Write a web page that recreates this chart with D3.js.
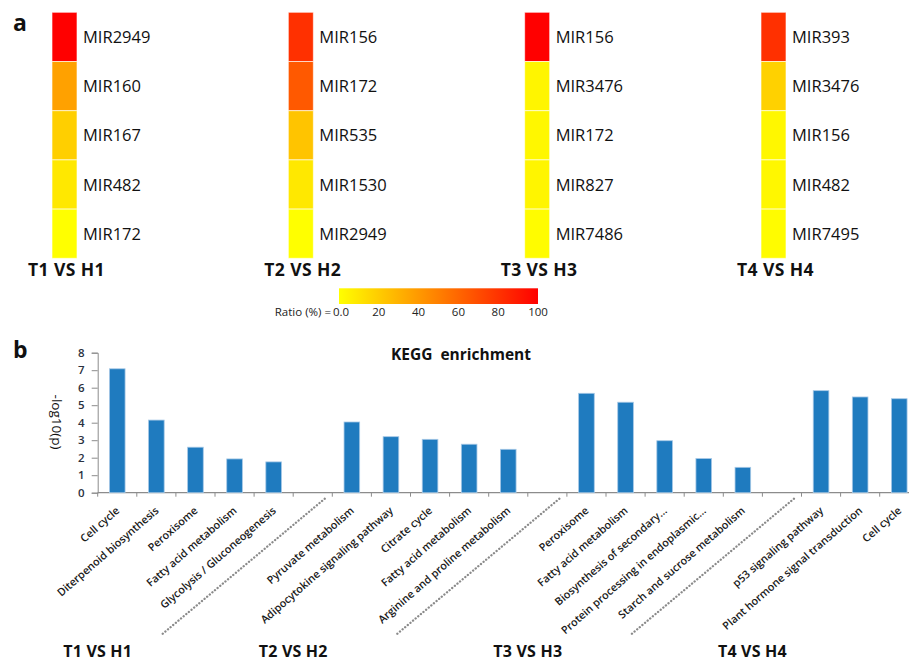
<!DOCTYPE html>
<html>
<head>
<meta charset="utf-8">
<script src="https://cdn.jsdelivr.net/npm/d3@7"></script>
<style>
  html, body { margin: 0; padding: 0; background: #fff; }
  svg { display: block; font-family: "Open Sans", "Liberation Sans", Arial, sans-serif; }
</style>
</head>
<body>
<svg id="fig" width="909" height="664"></svg>
<script>
// ---- panel a: top-5 miRNAs per comparison (ratio, %) ----
const groups = ["T1 VS H1", "T2 VS H2", "T3 VS H3", "T4 VS H4"];
const mirT1 = ["MIR2949", "MIR160", "MIR167", "MIR482", "MIR172"];
const mirT2 = ["MIR156", "MIR172", "MIR535", "MIR1530", "MIR2949"];
const mirT3 = ["MIR156", "MIR3476", "MIR172", "MIR827", "MIR7486"];
const mirT4 = ["MIR393", "MIR3476", "MIR156", "MIR482", "MIR7495"];
const ratioT1 = [100, 37, 19, 9, 0];
const ratioT2 = [81, 65, 23, 9, 0];
const ratioT3 = [100, 4, 3, 4, 1];
const ratioT4 = [81, 18, 3, 3, 1];
const ratioTicks = [0, 20, 40, 60, 80, 100];
const ratioTickLabels = ["0.0", "20", "40", "60", "80", "100"];

// ---- panel b: KEGG enrichment, -log10(p) ----
const pathT1 = ["Cell cycle", "Diterpenoid biosynthesis", "Peroxisome", "Fatty acid metabolism", "Glycolysis / Gluconeogenesis"];
const pathT2 = ["Pyruvate metabolism", "Adipocytokine signaling pathway", "Citrate cycle", "Fatty acid metabolism", "Arginine and proline metabolism"];
const pathT3 = ["Peroxisome", "Fatty acid metabolism", "Biosynthesis of secondary...", "Protein processing in endoplasmic...", "Starch and sucrose metabolism"];
const pathT4 = ["p53 signaling pathway", "Plant hormone signal transduction", "Cell cycle"];
const logpT1 = [7.08, 4.15, 2.6, 1.93, 1.76];
const logpT2 = [4.04, 3.2, 3.05, 2.77, 2.48];
const logpT3 = [5.68, 5.17, 2.97, 1.95, 1.45];
const logpT4 = [5.83, 5.47, 5.37];
const yTicks = [0, 1, 2, 3, 4, 5, 6, 7, 8];

const svg = d3.select("#fig");

// ================= panel a =================
const mirNames = [mirT1, mirT2, mirT3, mirT4];
const mirRatios = [ratioT1, ratioT2, ratioT3, ratioT4];

const colX = d3.scalePoint().domain(groups).range([52, 761]);
const rowY = d3.scaleBand().domain(d3.range(5)).range([12.3, 258.3]);
const color = d3.scaleLinear().domain([0, 100]).range(["#ffff00", "#ff0000"]).interpolate(d3.interpolateRgb);
const cellW = 25;

svg.append("text").attr("x", 13).attr("y", 31)
  .attr("font-size", 23).attr("font-weight", "bold").attr("fill", "#111").text("a");

groups.forEach((g, gi) => {
  const col = svg.append("g");
  const x0 = colX(g);
  col.selectAll("rect").data(mirRatios[gi]).join("rect")
    .attr("x", x0).attr("y", (d, i) => rowY(i))
    .attr("width", cellW).attr("height", rowY.bandwidth())
    .attr("fill", d => color(d))
    .attr("stroke", "#ffffff").attr("stroke-opacity", 0.6).attr("stroke-width", 1);
  col.selectAll("text.mir").data(mirNames[gi]).join("text")
    .attr("class", "mir")
    .attr("x", x0 + cellW + 6)
    .attr("y", (d, i) => rowY(i) + rowY.bandwidth() / 2 + 6)
    .attr("font-size", 16.5).attr("fill", "#111").text(d => d);
  col.append("text")
    .attr("x", x0 - 24).attr("y", 276)
    .attr("font-size", 17.5).attr("font-weight", "bold").attr("letter-spacing", 0.4)
    .attr("fill", "#111").text(g);
});

// colour bar
const cbar = d3.scaleLinear().domain([0, 100]).range([339, 538]);
const defs = svg.append("defs");
const grad = defs.append("linearGradient").attr("id", "ratioGrad");
ratioTicks.forEach(t => grad.append("stop")
  .attr("offset", t + "%").attr("stop-color", color(t)));
svg.append("rect").attr("x", cbar(0)).attr("y", 288.3)
  .attr("width", cbar(100) - cbar(0)).attr("height", 15.7)
  .attr("fill", "url(#ratioGrad)");
svg.selectAll("text.cbtick").data(ratioTicks).join("text")
  .attr("class", "cbtick")
  .attr("x", d => cbar(d) + (d === 0 ? 2 : 0)).attr("y", 316)
  .attr("text-anchor", "middle").attr("font-size", 11.5).attr("fill", "#222")
  .text((d, i) => ratioTickLabels[i]);
svg.append("text").attr("x", cbar(0) - 8).attr("y", 316)
  .attr("text-anchor", "end").attr("font-size", 11.5).attr("fill", "#222")
  .text("Ratio (%) =");

// ================= panel b =================
const pathNames = [pathT1, pathT2, pathT3, pathT4];
const logp = [logpT1, logpT2, logpT3, logpT4];

// flatten into band keys; a separator band sits between consecutive groups
const rows = [];
groups.forEach((g, gi) => {
  if (gi > 0) rows.push({ key: "sep" + gi, sep: true, group: gi });
  pathNames[gi].forEach((p, pi) => rows.push({ key: g + "|" + p, name: p, value: logp[gi][pi], group: gi }));
});

const x0b = 97.7, step = 39.1;
const x = d3.scaleBand().domain(rows.map(r => r.key))
  .range([x0b, x0b + rows.length * step]).paddingInner(0.6).paddingOuter(0.3);
const y = d3.scaleLinear().domain([0, 8]).range([492.7, 352.7]);

svg.append("text").attr("x", 13).attr("y", 358)
  .attr("font-size", 23).attr("font-weight", "bold").attr("fill", "#111").text("b");

svg.append("text").attr("x", 461).attr("y", 360).attr("text-anchor", "middle")
  .attr("font-size", 15.5).attr("font-weight", "bold").attr("fill", "#111")
  .attr("xml:space", "preserve").text("KEGG  enrichment");

// y axis
const yAxis = svg.append("g").attr("transform", `translate(${x0b},0)`)
  .call(d3.axisLeft(y).tickValues(yTicks).tickSize(6).tickSizeOuter(6).tickFormat(d3.format("d")));
yAxis.select(".domain").attr("stroke", "#8c8c8c");
yAxis.selectAll(".tick line").attr("stroke", "#8c8c8c");
yAxis.selectAll(".tick text").attr("font-size", 11.5).attr("font-weight", 600)
  .attr("fill", "#2a3140").attr("font-family", "'Open Sans', sans-serif").attr("dx", -4);

svg.append("text")
  .attr("transform", `translate(52,422) rotate(90)`)
  .attr("text-anchor", "middle").attr("font-size", 13.5).attr("fill", "#111")
  .text("-log10(p)");

// x axis line and boundary ticks
const xEnd = x0b + rows.length * step;
svg.append("line").attr("x1", x0b).attr("x2", xEnd).attr("y1", y(0)).attr("y2", y(0))
  .attr("stroke", "#8c8c8c").attr("stroke-width", 1.2);
svg.selectAll("line.xtick").data(d3.range(rows.length + 1)).join("line")
  .attr("class", "xtick")
  .attr("x1", i => x0b + i * x.step()).attr("x2", i => x0b + i * x.step())
  .attr("y1", y(0)).attr("y2", y(0) + 4)
  .attr("stroke", "#8c8c8c");

// bars
const bars = rows.filter(r => !r.sep);
svg.selectAll("rect.bar").data(bars).join("rect")
  .attr("class", "bar")
  .attr("x", d => x(d.key)).attr("width", x.bandwidth())
  .attr("y", d => y(d.value)).attr("height", d => y(0) - y(d.value))
  .attr("fill", "#1f7bbf").attr("stroke", "#a6c8e6").attr("stroke-width", 0.8);

// rotated category labels
svg.selectAll("text.xlab").data(bars).join("text")
  .attr("class", "xlab")
  .attr("transform", d => `translate(${x(d.key) + x.bandwidth() / 2 + 3},${y(0) + 19}) rotate(-41)`)
  .attr("text-anchor", "end").attr("font-size", 10.8).attr("font-weight", 600)
  .attr("fill", "#1a1a1a")
  .text(d => d.name);

// dotted separators between comparisons
const seps = rows.filter(r => r.sep);
svg.selectAll("line.sep").data(seps).join("line")
  .attr("class", "sep")
  .attr("x1", d => x(d.key) + x.bandwidth() / 2 + 12).attr("y1", y(0) + 6)
  .attr("x2", d => x(d.key) + x.bandwidth() / 2 - 150).attr("y2", y(0) + 141)
  .attr("stroke", "#8a8a8a").attr("stroke-width", 2.3)
  .attr("stroke-dasharray", "0.1 3.3").attr("stroke-linecap", "round");

// comparison labels under the bars
svg.selectAll("text.grp").data(groups).join("text")
  .attr("class", "grp")
  .attr("x", (g, gi) => {
    const first = rows.find(r => r.group === gi);
    return x(first.key) - x.bandwidth() * 0.75 + (gi === 3 ? -10 : 0);
  })
  .attr("y", 657).attr("text-anchor", "middle")
  .attr("font-size", 16).attr("font-weight", "bold").attr("letter-spacing", 0.2)
  .attr("fill", "#111").text(g => g);
</script>
</body>
</html>
